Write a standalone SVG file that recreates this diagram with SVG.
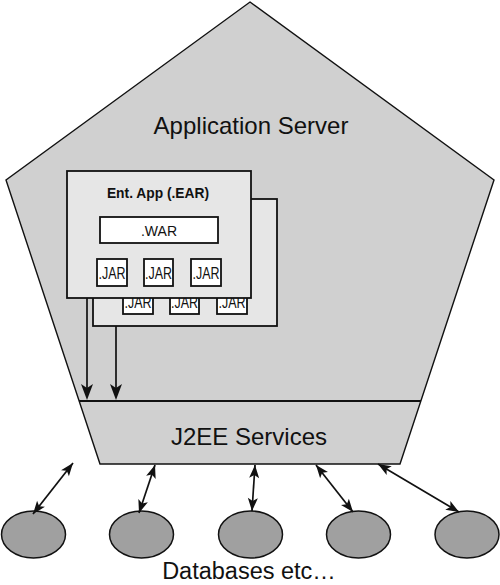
<svg xmlns="http://www.w3.org/2000/svg" width="500" height="585" viewBox="0 0 500 585">
<style>
text{font-family:"Liberation Sans",Arial,sans-serif;fill:#111;text-anchor:middle}
.box{fill:#e6e6e6;stroke:#111;stroke-width:1.8}
.wbox{fill:#fff;stroke:#111;stroke-width:1.8}
.jar{font-size:16px}
.db{fill:#a0a0a0;stroke:#111;stroke-width:1.5}
.ln{stroke:#111;stroke-width:1.7;fill:none}
.hd{fill:#111}
</style>
<defs>
<path id="h" d="M0,0 L-13,-5 L-10,0 L-13,5 z"/>
<path id="hb" d="M0,0 L-16,-6 L-12,0 L-16,6 z"/>
</defs>
<g id="appserver">
<polygon points="250,2 494,180 400,464 100,464 6,180" fill="#d0d0d0" stroke="#111" stroke-width="1.4"/>
<text x="251" y="134" font-size="24">Application Server</text>
</g>
<g id="j2ee">
<line x1="79" y1="401" x2="421" y2="401" stroke="#111" stroke-width="2"/>
<text x="249" y="445" font-size="24">J2EE Services</text>
</g>
<g id="ear-back">
<rect class="box" x="93" y="199" width="184" height="127"/>
<rect class="wbox" x="123" y="287" width="30" height="27"/>
<rect class="wbox" x="170" y="287" width="29" height="27"/>
<rect class="wbox" x="217" y="287" width="30" height="27"/>
<text class="jar" x="138" y="308" textLength="27" lengthAdjust="spacingAndGlyphs">.JAR</text>
<text class="jar" x="184.5" y="308" textLength="27" lengthAdjust="spacingAndGlyphs">.JAR</text>
<text class="jar" x="232" y="308" textLength="27" lengthAdjust="spacingAndGlyphs">.JAR</text>
</g>
<g id="ear-front">
<rect class="box" x="67" y="171" width="184" height="127"/>
<text x="158" y="198" font-size="13.8" font-weight="bold">Ent. App (.EAR)</text>
<rect class="wbox" x="100" y="217" width="118" height="26"/>
<text x="159" y="236" font-size="14">.WAR</text>
<rect class="wbox" x="97" y="259" width="30" height="27"/>
<rect class="wbox" x="144" y="259" width="29" height="27"/>
<rect class="wbox" x="191" y="259" width="30" height="27"/>
<text class="jar" x="112" y="279" textLength="27" lengthAdjust="spacingAndGlyphs">.JAR</text>
<text class="jar" x="158.5" y="279" textLength="27" lengthAdjust="spacingAndGlyphs">.JAR</text>
<text class="jar" x="206" y="279" textLength="27" lengthAdjust="spacingAndGlyphs">.JAR</text>
</g>
<g id="databases">
<ellipse class="db" cx="33.5" cy="534.5" rx="32" ry="23.5"/>
<ellipse class="db" cx="141.5" cy="534.5" rx="32" ry="23.5"/>
<ellipse class="db" cx="250.5" cy="534.5" rx="32" ry="23.5"/>
<ellipse class="db" cx="358.5" cy="534.5" rx="32" ry="23.5"/>
<ellipse class="db" cx="467" cy="534.5" rx="32" ry="23.5"/>
<text x="249" y="579" font-size="23.5">Databases etc…</text>
</g>
<g id="connectors">
<line class="ln" x1="87" y1="298" x2="87" y2="392" stroke-width="2"/>
<use href="#hb" class="hd" transform="translate(87,400) rotate(90)"/>
<line class="ln" x1="116" y1="326" x2="116" y2="392" stroke-width="2"/>
<use href="#hb" class="hd" transform="translate(116,400) rotate(90)"/>
<line class="ln" x1="73" y1="463" x2="33" y2="514"/>
<use href="#h" class="hd" transform="translate(33,514) rotate(128.1)"/>
<use href="#h" class="hd" transform="translate(73,463) rotate(-51.9)"/>
<line class="ln" x1="155" y1="465" x2="139" y2="513"/>
<use href="#h" class="hd" transform="translate(139,513) rotate(108.4)"/>
<use href="#h" class="hd" transform="translate(155,465) rotate(-71.6)"/>
<line class="ln" x1="255" y1="465" x2="252" y2="511"/>
<use href="#h" class="hd" transform="translate(252,511) rotate(93.7)"/>
<use href="#h" class="hd" transform="translate(255,465) rotate(-86.3)"/>
<line class="ln" x1="316" y1="465" x2="353" y2="512"/>
<use href="#h" class="hd" transform="translate(353,512) rotate(51.8)"/>
<use href="#h" class="hd" transform="translate(316,465) rotate(-128.2)"/>
<line class="ln" x1="378" y1="464" x2="459" y2="512"/>
<use href="#h" class="hd" transform="translate(459,512) rotate(30.65)"/>
<use href="#h" class="hd" transform="translate(378,464) rotate(-149.35)"/>
</g>
</svg>
